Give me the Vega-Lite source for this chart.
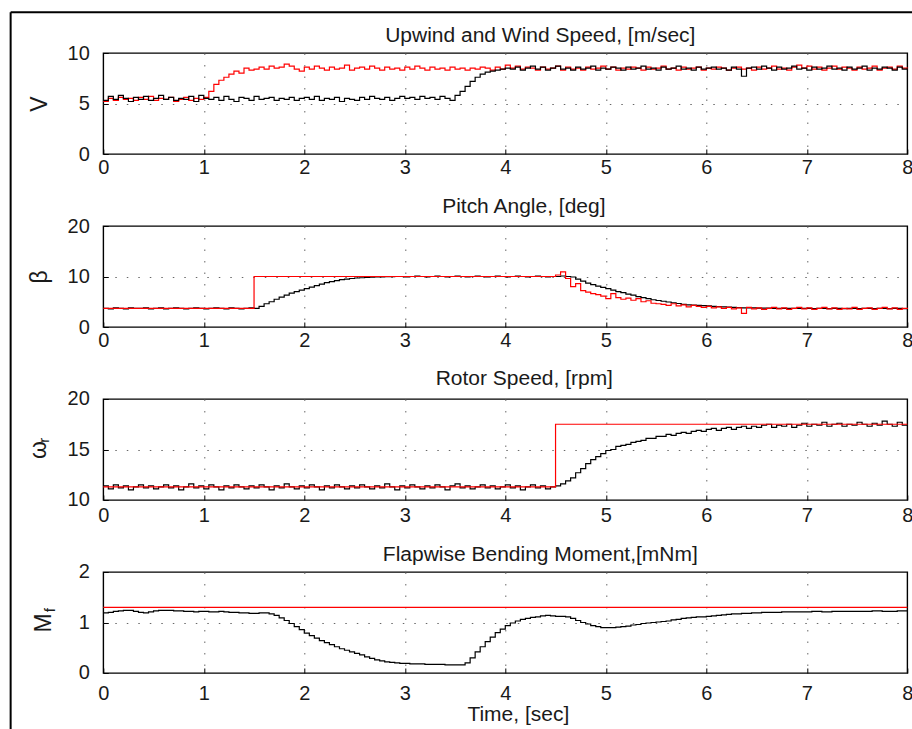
{
"$schema": "https://vega.github.io/schema/vega-lite/v6.json",
"padding": {"left": 8.3, "top": 10, "right": 0, "bottom": 0},
"background": "white",
"config": {
  "font": "Liberation Sans",
  "view": {"stroke": "#000", "strokeWidth": 1.4},
  "axis": {"labelFont": "Liberation Sans", "labelFontSize": 20, "labelColor": "#1a1a1a", "titleFont": "Liberation Sans", "titleFontSize": 23, "titleFontWeight": "normal", "titleColor": "#1a1a1a", "domain": false, "ticks": true, "tickSize": -5, "tickColor": "#000", "tickWidth": 1, "grid": true, "gridColor": "#666", "gridDash": [1.5, 10], "gridWidth": 1, "labelFlush": false, "labelOverlap": false, "format": "d"},
  "axisX": {"labelPadding": 8.9},
  "axisY": {"labelPadding": 19, "titleBaseline": "alphabetic", "titleAngle": 270},
  "title": {"font": "Liberation Sans", "fontSize": 21, "fontWeight": "normal", "color": "#1a1a1a", "baseline": "alphabetic", "offset": 13, "frame": "group", "anchor": "middle"}
},
"datasets": {
"p1": [
{"t":0,"b":5.3,"r":5.2},{"t":0.05,"b":5.7,"r":5.5},{"t":0.1,"b":5.4,"r":5.3},{"t":0.15,"b":5.8,"r":5.6},{"t":0.2,"b":5.5,"r":5.4},{"t":0.25,"b":5.2,"r":5.5},{"t":0.3,"b":5.6,"r":5.3},{"t":0.35,"b":5.4,"r":5.6},{"t":0.4,"b":5.7,"r":5.4},{"t":0.45,"b":5.3,"r":5.7},
{"t":0.5,"b":5.5,"r":5.3},{"t":0.55,"b":5.8,"r":5.5},{"t":0.6,"b":5.4,"r":5.4},{"t":0.65,"b":5.6,"r":5.6},{"t":0.7,"b":5.3,"r":5.2},{"t":0.75,"b":5.5,"r":5.4},{"t":0.8,"b":5.4,"r":5.6},{"t":0.85,"b":5.7,"r":5.3},{"t":0.9,"b":5.2,"r":5.5},{"t":0.95,"b":5.8,"r":5.4},
{"t":1,"b":5.5,"r":5.6},{"t":1.05,"b":5.4,"r":6.2},{"t":1.1,"b":5.6,"r":6.9},{"t":1.15,"b":5.3,"r":7.3},{"t":1.2,"b":5.7,"r":7.6},{"t":1.25,"b":5.4,"r":7.9},{"t":1.3,"b":5.2,"r":8.2},{"t":1.35,"b":5.6,"r":8.0},{"t":1.4,"b":5.5,"r":8.5},{"t":1.45,"b":5.3,"r":8.3},
{"t":1.5,"b":5.7,"r":8.4},{"t":1.55,"b":5.4,"r":8.6},{"t":1.6,"b":5.5,"r":8.4},{"t":1.65,"b":5.6,"r":8.7},{"t":1.7,"b":5.3,"r":8.5},{"t":1.75,"b":5.5,"r":8.6},{"t":1.8,"b":5.4,"r":8.9},{"t":1.85,"b":5.6,"r":8.7},{"t":1.9,"b":5.3,"r":8.4},{"t":1.95,"b":5.5,"r":8.2},
{"t":2,"b":5.6,"r":8.6},{"t":2.05,"b":5.4,"r":8.4},{"t":2.1,"b":5.7,"r":8.7},{"t":2.15,"b":5.3,"r":8.5},{"t":2.2,"b":5.5,"r":8.3},{"t":2.25,"b":5.4,"r":8.6},{"t":2.3,"b":5.6,"r":8.4},{"t":2.35,"b":5.2,"r":8.5},{"t":2.4,"b":5.5,"r":8.8},{"t":2.45,"b":5.4,"r":8.3},
{"t":2.5,"b":5.3,"r":8.5},{"t":2.55,"b":5.6,"r":8.6},{"t":2.6,"b":5.4,"r":8.4},{"t":2.65,"b":5.7,"r":8.7},{"t":2.7,"b":5.5,"r":8.5},{"t":2.75,"b":5.4,"r":8.3},{"t":2.8,"b":5.6,"r":8.6},{"t":2.85,"b":5.3,"r":8.4},{"t":2.9,"b":5.5,"r":8.5},{"t":2.95,"b":5.7,"r":8.3},
{"t":3,"b":5.5,"r":8.6},{"t":3.05,"b":5.6,"r":8.4},{"t":3.1,"b":5.4,"r":8.7},{"t":3.15,"b":5.7,"r":8.5},{"t":3.2,"b":5.5,"r":8.3},{"t":3.25,"b":5.6,"r":8.6},{"t":3.3,"b":5.4,"r":8.4},{"t":3.35,"b":5.7,"r":8.5},{"t":3.4,"b":5.5,"r":8.3},{"t":3.45,"b":5.3,"r":8.6},
{"t":3.5,"b":5.8,"r":8.4},{"t":3.55,"b":6.2,"r":8.5},{"t":3.6,"b":6.7,"r":8.3},{"t":3.65,"b":7.2,"r":8.5},{"t":3.7,"b":7.6,"r":8.4},{"t":3.75,"b":7.9,"r":8.6},{"t":3.8,"b":8.1,"r":8.5},{"t":3.85,"b":8.2,"r":8.3},{"t":3.9,"b":8.3,"r":8.6},{"t":3.95,"b":8.4,"r":8.4},
{"t":4,"b":8.5,"r":8.8},{"t":4.05,"b":8.4,"r":8.5},{"t":4.1,"b":8.6,"r":8.7},{"t":4.15,"b":8.3,"r":8.4},{"t":4.2,"b":8.5,"r":8.6},{"t":4.25,"b":8.7,"r":8.5},{"t":4.3,"b":8.4,"r":8.3},{"t":4.35,"b":8.6,"r":8.6},{"t":4.4,"b":8.3,"r":8.4},{"t":4.45,"b":8.5,"r":8.5},
{"t":4.5,"b":8.7,"r":8.7},{"t":4.55,"b":8.4,"r":8.3},{"t":4.6,"b":8.5,"r":8.6},{"t":4.65,"b":8.3,"r":8.4},{"t":4.7,"b":8.6,"r":8.5},{"t":4.75,"b":8.4,"r":8.3},{"t":4.8,"b":8.5,"r":8.6},{"t":4.85,"b":8.7,"r":8.4},{"t":4.9,"b":8.3,"r":8.5},{"t":4.95,"b":8.5,"r":8.7},
{"t":5,"b":8.4,"r":8.4},{"t":5.05,"b":8.6,"r":8.6},{"t":5.1,"b":8.5,"r":8.3},{"t":5.15,"b":8.3,"r":8.5},{"t":5.2,"b":8.6,"r":8.4},{"t":5.25,"b":8.4,"r":8.6},{"t":5.3,"b":8.5,"r":8.5},{"t":5.35,"b":8.7,"r":8.3},{"t":5.4,"b":8.4,"r":8.6},{"t":5.45,"b":8.5,"r":8.4},
{"t":5.5,"b":8.3,"r":8.5},{"t":5.55,"b":8.6,"r":8.7},{"t":5.6,"b":8.4,"r":8.4},{"t":5.65,"b":8.5,"r":8.5},{"t":5.7,"b":8.7,"r":8.3},{"t":5.75,"b":8.4,"r":8.6},{"t":5.8,"b":8.5,"r":8.4},{"t":5.85,"b":8.3,"r":8.5},{"t":5.9,"b":8.6,"r":8.6},{"t":5.95,"b":8.4,"r":8.3},
{"t":6,"b":8.5,"r":8.5},{"t":6.05,"b":8.6,"r":8.4},{"t":6.1,"b":8.4,"r":8.6},{"t":6.15,"b":8.5,"r":8.5},{"t":6.2,"b":8.3,"r":8.3},{"t":6.25,"b":8.6,"r":8.5},{"t":6.3,"b":8.4,"r":8.6},{"t":6.35,"b":7.7,"r":8.4},{"t":6.4,"b":8.5,"r":8.5},{"t":6.45,"b":8.6,"r":8.3},
{"t":6.5,"b":8.4,"r":8.6},{"t":6.55,"b":8.7,"r":8.4},{"t":6.6,"b":8.5,"r":8.5},{"t":6.65,"b":8.3,"r":8.7},{"t":6.7,"b":8.6,"r":8.4},{"t":6.75,"b":8.4,"r":8.5},{"t":6.8,"b":8.5,"r":8.3},{"t":6.85,"b":8.7,"r":8.6},{"t":6.9,"b":8.4,"r":8.8},{"t":6.95,"b":8.5,"r":8.5},
{"t":7,"b":8.3,"r":8.7},{"t":7.05,"b":8.6,"r":8.4},{"t":7.1,"b":8.4,"r":8.6},{"t":7.15,"b":8.5,"r":8.3},{"t":7.2,"b":8.7,"r":8.5},{"t":7.25,"b":8.4,"r":8.7},{"t":7.3,"b":8.5,"r":8.4},{"t":7.35,"b":8.3,"r":8.6},{"t":7.4,"b":8.6,"r":8.5},{"t":7.45,"b":8.4,"r":8.3},
{"t":7.5,"b":8.5,"r":8.6},{"t":7.55,"b":8.7,"r":8.4},{"t":7.6,"b":8.3,"r":8.5},{"t":7.65,"b":8.5,"r":8.7},{"t":7.7,"b":8.4,"r":8.3},{"t":7.75,"b":8.6,"r":8.5},{"t":7.8,"b":8.5,"r":8.6},{"t":7.85,"b":8.3,"r":8.4},{"t":7.9,"b":8.6,"r":8.7},{"t":7.95,"b":8.4,"r":8.5},
{"t":8,"b":8.5,"r":8.4}
],
"p2": [
{"t":0,"b":3.7,"r":3.7},{"t":0.05,"b":3.6,"r":3.7},{"t":0.1,"b":3.8,"r":3.7},{"t":0.15,"b":3.7,"r":3.7},{"t":0.2,"b":3.6,"r":3.7},{"t":0.25,"b":3.8,"r":3.7},{"t":0.3,"b":3.7,"r":3.7},{"t":0.35,"b":3.7,"r":3.7},{"t":0.4,"b":3.8,"r":3.7},{"t":0.45,"b":3.6,"r":3.7},
{"t":0.5,"b":3.7,"r":3.7},{"t":0.55,"b":3.8,"r":3.7},{"t":0.6,"b":3.6,"r":3.7},{"t":0.65,"b":3.7,"r":3.7},{"t":0.7,"b":3.8,"r":3.7},{"t":0.75,"b":3.7,"r":3.7},{"t":0.8,"b":3.6,"r":3.7},{"t":0.85,"b":3.7,"r":3.7},{"t":0.9,"b":3.8,"r":3.7},{"t":0.95,"b":3.7,"r":3.7},
{"t":1,"b":3.6,"r":3.7},{"t":1.05,"b":3.7,"r":3.7},{"t":1.1,"b":3.8,"r":3.7},{"t":1.15,"b":3.7,"r":3.7},{"t":1.2,"b":3.6,"r":3.7},{"t":1.25,"b":3.8,"r":3.7},{"t":1.3,"b":3.7,"r":3.7},{"t":1.35,"b":3.6,"r":3.7},{"t":1.4,"b":3.7,"r":3.7},{"t":1.45,"b":3.8,"r":3.7},
{"t":1.5,"b":3.7,"r":10},{"t":1.55,"b":4.1,"r":10},{"t":1.6,"b":4.6,"r":10},{"t":1.65,"b":5.0,"r":10},{"t":1.7,"b":5.5,"r":10},{"t":1.75,"b":5.9,"r":10},{"t":1.8,"b":6.3,"r":10},{"t":1.85,"b":6.7,"r":10},{"t":1.9,"b":7.0,"r":10},{"t":1.95,"b":7.3,"r":10},
{"t":2,"b":7.6,"r":10},{"t":2.05,"b":7.9,"r":10},{"t":2.1,"b":8.2,"r":10},{"t":2.15,"b":8.5,"r":10},{"t":2.2,"b":8.8,"r":10},{"t":2.25,"b":9.0,"r":10},{"t":2.3,"b":9.2,"r":10},{"t":2.35,"b":9.4,"r":10},{"t":2.4,"b":9.5,"r":10},{"t":2.45,"b":9.6,"r":10},
{"t":2.5,"b":9.7,"r":10},{"t":2.55,"b":9.75,"r":10},{"t":2.6,"b":9.8,"r":10},{"t":2.65,"b":9.85,"r":10},{"t":2.7,"b":9.9,"r":10},{"t":2.75,"b":9.9,"r":10},{"t":2.8,"b":9.95,"r":10},{"t":2.85,"b":9.95,"r":10},{"t":2.9,"b":10,"r":10},{"t":2.95,"b":10,"r":10},
{"t":3,"b":9.9,"r":10},{"t":3.05,"b":10,"r":10},{"t":3.1,"b":10.1,"r":10},{"t":3.15,"b":10,"r":10},{"t":3.2,"b":9.9,"r":10},{"t":3.25,"b":10,"r":10},{"t":3.3,"b":10.1,"r":10},{"t":3.35,"b":10,"r":10},{"t":3.4,"b":9.9,"r":10},{"t":3.45,"b":10,"r":10},
{"t":3.5,"b":10.1,"r":10},{"t":3.55,"b":10,"r":10},{"t":3.6,"b":9.9,"r":10},{"t":3.65,"b":10,"r":10},{"t":3.7,"b":10.1,"r":10},{"t":3.75,"b":10,"r":10},{"t":3.8,"b":9.9,"r":10},{"t":3.85,"b":10,"r":10},{"t":3.9,"b":10.1,"r":10},{"t":3.95,"b":10,"r":10},
{"t":4,"b":9.9,"r":10},{"t":4.05,"b":10,"r":10},{"t":4.1,"b":10.1,"r":10},{"t":4.15,"b":10,"r":10},{"t":4.2,"b":9.9,"r":10},{"t":4.25,"b":10,"r":10},{"t":4.3,"b":10.1,"r":10},{"t":4.35,"b":10,"r":10},{"t":4.4,"b":9.9,"r":10},{"t":4.45,"b":10,"r":10},
{"t":4.5,"b":10,"r":10.3},{"t":4.55,"b":10.1,"r":10.9},{"t":4.6,"b":10,"r":9.6},{"t":4.65,"b":9.9,"r":8.0},{"t":4.7,"b":9.5,"r":8.6},{"t":4.75,"b":9.1,"r":7.2},{"t":4.8,"b":8.7,"r":6.9},{"t":4.85,"b":8.4,"r":6.6},{"t":4.9,"b":8.1,"r":6.4},{"t":4.95,"b":7.85,"r":6.1},
{"t":5,"b":7.6,"r":5.6},{"t":5.05,"b":7.3,"r":6.6},{"t":5.1,"b":7.0,"r":5.8},{"t":5.15,"b":6.8,"r":5.5},{"t":5.2,"b":6.5,"r":5.7},{"t":5.25,"b":6.3,"r":5.3},{"t":5.3,"b":6.0,"r":5.6},{"t":5.35,"b":5.8,"r":5.0},{"t":5.4,"b":5.6,"r":5.2},{"t":5.45,"b":5.4,"r":4.7},
{"t":5.5,"b":5.25,"r":4.6},{"t":5.55,"b":5.1,"r":4.5},{"t":5.6,"b":4.95,"r":4.3},{"t":5.65,"b":4.8,"r":4.6},{"t":5.7,"b":4.65,"r":4.2},{"t":5.75,"b":4.5,"r":4.4},{"t":5.8,"b":4.4,"r":4.0},{"t":5.85,"b":4.35,"r":4.3},{"t":5.9,"b":4.3,"r":4.1},{"t":5.95,"b":4.25,"r":3.9},
{"t":6,"b":4.2,"r":4.1},{"t":6.05,"b":4.1,"r":3.8},{"t":6.1,"b":4.05,"r":4.0},{"t":6.15,"b":4.0,"r":3.7},{"t":6.2,"b":3.95,"r":3.9},{"t":6.25,"b":3.9,"r":3.6},{"t":6.3,"b":3.85,"r":3.8},{"t":6.35,"b":3.8,"r":2.7},{"t":6.4,"b":3.8,"r":3.9},{"t":6.45,"b":3.8,"r":3.6},
{"t":6.5,"b":3.75,"r":3.8},{"t":6.55,"b":3.75,"r":3.5},{"t":6.6,"b":3.75,"r":3.7},{"t":6.65,"b":3.7,"r":3.9},{"t":6.7,"b":3.7,"r":3.6},{"t":6.75,"b":3.7,"r":3.8},{"t":6.8,"b":3.7,"r":3.5},{"t":6.85,"b":3.7,"r":3.7},{"t":6.9,"b":3.7,"r":3.9},{"t":6.95,"b":3.7,"r":3.6},
{"t":7,"b":3.7,"r":3.8},{"t":7.05,"b":3.65,"r":3.5},{"t":7.1,"b":3.7,"r":3.7},{"t":7.15,"b":3.7,"r":3.9},{"t":7.2,"b":3.65,"r":3.6},{"t":7.25,"b":3.7,"r":3.8},{"t":7.3,"b":3.7,"r":3.5},{"t":7.35,"b":3.65,"r":3.7},{"t":7.4,"b":3.7,"r":3.6},{"t":7.45,"b":3.7,"r":3.9},
{"t":7.5,"b":3.65,"r":3.5},{"t":7.55,"b":3.7,"r":3.7},{"t":7.6,"b":3.7,"r":3.8},{"t":7.65,"b":3.65,"r":3.5},{"t":7.7,"b":3.7,"r":3.7},{"t":7.75,"b":3.7,"r":3.9},{"t":7.8,"b":3.65,"r":3.6},{"t":7.85,"b":3.7,"r":3.8},{"t":7.9,"b":3.7,"r":3.5},{"t":7.95,"b":3.65,"r":3.7},
{"t":8,"b":3.7,"r":3.8}
],
"p3": [
{"t":0,"b":11.4},{"t":0.05,"b":11.1},{"t":0.1,"b":11.5},{"t":0.15,"b":11.2},{"t":0.2,"b":11.4},{"t":0.25,"b":11.0},{"t":0.3,"b":11.3},{"t":0.35,"b":11.5},{"t":0.4,"b":11.2},{"t":0.45,"b":11.4},
{"t":0.5,"b":11.1},{"t":0.55,"b":11.3},{"t":0.6,"b":11.5},{"t":0.65,"b":11.2},{"t":0.7,"b":11.4},{"t":0.75,"b":11.0},{"t":0.8,"b":11.3},{"t":0.85,"b":11.6},{"t":0.9,"b":11.2},{"t":0.95,"b":11.4},
{"t":1,"b":11.1},{"t":1.05,"b":11.5},{"t":1.1,"b":11.3},{"t":1.15,"b":11.0},{"t":1.2,"b":11.4},{"t":1.25,"b":11.2},{"t":1.3,"b":11.5},{"t":1.35,"b":11.3},{"t":1.4,"b":11.1},{"t":1.45,"b":11.4},
{"t":1.5,"b":11.2},{"t":1.55,"b":11.5},{"t":1.6,"b":11.3},{"t":1.65,"b":11.0},{"t":1.7,"b":11.4},{"t":1.75,"b":11.2},{"t":1.8,"b":11.6},{"t":1.85,"b":11.3},{"t":1.9,"b":11.1},{"t":1.95,"b":11.4},
{"t":2,"b":11.2},{"t":2.05,"b":11.5},{"t":2.1,"b":11.3},{"t":2.15,"b":11.0},{"t":2.2,"b":11.4},{"t":2.25,"b":11.2},{"t":2.3,"b":11.5},{"t":2.35,"b":11.3},{"t":2.4,"b":11.1},{"t":2.45,"b":11.4},
{"t":2.5,"b":11.2},{"t":2.55,"b":11.5},{"t":2.6,"b":11.3},{"t":2.65,"b":11.1},{"t":2.7,"b":11.4},{"t":2.75,"b":11.2},{"t":2.8,"b":11.6},{"t":2.85,"b":11.3},{"t":2.9,"b":11.0},{"t":2.95,"b":11.4},
{"t":3,"b":11.2},{"t":3.05,"b":11.5},{"t":3.1,"b":11.3},{"t":3.15,"b":11.1},{"t":3.2,"b":11.4},{"t":3.25,"b":11.2},{"t":3.3,"b":11.5},{"t":3.35,"b":11.3},{"t":3.4,"b":11.0},{"t":3.45,"b":11.4},
{"t":3.5,"b":11.6},{"t":3.55,"b":11.2},{"t":3.6,"b":11.4},{"t":3.65,"b":11.1},{"t":3.7,"b":11.3},{"t":3.75,"b":11.5},{"t":3.8,"b":11.2},{"t":3.85,"b":11.4},{"t":3.9,"b":11.1},{"t":3.95,"b":11.3},
{"t":4,"b":11.5},{"t":4.05,"b":11.2},{"t":4.1,"b":11.4},{"t":4.15,"b":11.0},{"t":4.2,"b":11.3},{"t":4.25,"b":11.5},{"t":4.3,"b":11.2},{"t":4.35,"b":11.4},{"t":4.4,"b":11.1},{"t":4.45,"b":11.3},
{"t":4.5,"b":11.4},{"t":4.55,"b":11.6},{"t":4.6,"b":11.9},{"t":4.65,"b":12.2},{"t":4.7,"b":12.7},{"t":4.75,"b":13.1},{"t":4.8,"b":13.6},{"t":4.85,"b":14.0},{"t":4.9,"b":14.3},{"t":4.95,"b":14.6},
{"t":5,"b":14.9},{"t":5.05,"b":15.0},{"t":5.1,"b":15.3},{"t":5.15,"b":15.4},{"t":5.2,"b":15.5},{"t":5.25,"b":15.7},{"t":5.3,"b":15.8},{"t":5.35,"b":15.9},{"t":5.4,"b":16.1},{"t":5.45,"b":16.1},
{"t":5.5,"b":16.3},{"t":5.55,"b":16.3},{"t":5.6,"b":16.5},{"t":5.65,"b":16.4},{"t":5.7,"b":16.6},{"t":5.75,"b":16.7},{"t":5.8,"b":16.6},{"t":5.85,"b":16.8},{"t":5.9,"b":16.9},{"t":5.95,"b":16.8},
{"t":6,"b":17.0},{"t":6.05,"b":17.1},{"t":6.1,"b":16.9},{"t":6.15,"b":17.1},{"t":6.2,"b":17.2},{"t":6.25,"b":17.0},{"t":6.3,"b":17.2},{"t":6.35,"b":17.3},{"t":6.4,"b":17.1},{"t":6.45,"b":17.3},
{"t":6.5,"b":17.2},{"t":6.55,"b":17.4},{"t":6.6,"b":17.5},{"t":6.65,"b":17.2},{"t":6.7,"b":17.4},{"t":6.75,"b":17.3},{"t":6.8,"b":17.5},{"t":6.85,"b":17.2},{"t":6.9,"b":17.4},{"t":6.95,"b":17.6},
{"t":7,"b":17.3},{"t":7.05,"b":17.5},{"t":7.1,"b":17.4},{"t":7.15,"b":17.7},{"t":7.2,"b":17.3},{"t":7.25,"b":17.5},{"t":7.3,"b":17.6},{"t":7.35,"b":17.3},{"t":7.4,"b":17.5},{"t":7.45,"b":17.4},
{"t":7.5,"b":17.7},{"t":7.55,"b":17.5},{"t":7.6,"b":17.3},{"t":7.65,"b":17.6},{"t":7.7,"b":17.4},{"t":7.75,"b":17.8},{"t":7.8,"b":17.5},{"t":7.85,"b":17.3},{"t":7.9,"b":17.7},{"t":7.95,"b":17.4},
{"t":8,"b":17.5}
],
"p3r": [{"t":0,"r":11.3},{"t":4.5,"r":17.5},{"t":8,"r":17.5}],
"p4": [
{"t":0,"b":1.19},{"t":0.05,"b":1.2},{"t":0.1,"b":1.22},{"t":0.15,"b":1.23},{"t":0.2,"b":1.24},{"t":0.25,"b":1.24},{"t":0.3,"b":1.22},{"t":0.35,"b":1.2},{"t":0.4,"b":1.19},{"t":0.45,"b":1.21},
{"t":0.5,"b":1.23},{"t":0.55,"b":1.24},{"t":0.6,"b":1.24},{"t":0.65,"b":1.24},{"t":0.7,"b":1.23},{"t":0.75,"b":1.23},{"t":0.8,"b":1.22},{"t":0.85,"b":1.22},{"t":0.9,"b":1.21},{"t":0.95,"b":1.22},
{"t":1,"b":1.22},{"t":1.05,"b":1.21},{"t":1.1,"b":1.21},{"t":1.15,"b":1.22},{"t":1.2,"b":1.21},{"t":1.25,"b":1.2},{"t":1.3,"b":1.2},{"t":1.35,"b":1.19},{"t":1.4,"b":1.19},{"t":1.45,"b":1.18},
{"t":1.5,"b":1.18},{"t":1.55,"b":1.19},{"t":1.6,"b":1.19},{"t":1.65,"b":1.17},{"t":1.7,"b":1.14},{"t":1.75,"b":1.09},{"t":1.8,"b":1.04},{"t":1.85,"b":0.98},{"t":1.9,"b":0.92},{"t":1.95,"b":0.86},
{"t":2,"b":0.79},{"t":2.05,"b":0.74},{"t":2.1,"b":0.69},{"t":2.15,"b":0.64},{"t":2.2,"b":0.6},{"t":2.25,"b":0.56},{"t":2.3,"b":0.52},{"t":2.35,"b":0.48},{"t":2.4,"b":0.45},{"t":2.45,"b":0.42},
{"t":2.5,"b":0.39},{"t":2.55,"b":0.36},{"t":2.6,"b":0.32},{"t":2.65,"b":0.29},{"t":2.7,"b":0.26},{"t":2.75,"b":0.24},{"t":2.8,"b":0.22},{"t":2.85,"b":0.21},{"t":2.9,"b":0.2},{"t":2.95,"b":0.19},
{"t":3,"b":0.19},{"t":3.05,"b":0.18},{"t":3.1,"b":0.18},{"t":3.15,"b":0.18},{"t":3.2,"b":0.17},{"t":3.25,"b":0.17},{"t":3.3,"b":0.17},{"t":3.35,"b":0.17},{"t":3.4,"b":0.16},{"t":3.45,"b":0.16},
{"t":3.5,"b":0.16},{"t":3.55,"b":0.16},{"t":3.6,"b":0.2},{"t":3.65,"b":0.3},{"t":3.7,"b":0.42},{"t":3.75,"b":0.52},{"t":3.8,"b":0.62},{"t":3.85,"b":0.71},{"t":3.9,"b":0.8},{"t":3.95,"b":0.87},
{"t":4,"b":0.94},{"t":4.05,"b":0.99},{"t":4.1,"b":1.03},{"t":4.15,"b":1.06},{"t":4.2,"b":1.08},{"t":4.25,"b":1.1},{"t":4.3,"b":1.11},{"t":4.35,"b":1.13},{"t":4.4,"b":1.14},{"t":4.45,"b":1.13},
{"t":4.5,"b":1.12},{"t":4.55,"b":1.12},{"t":4.6,"b":1.11},{"t":4.65,"b":1.08},{"t":4.7,"b":1.04},{"t":4.75,"b":1.0},{"t":4.8,"b":0.97},{"t":4.85,"b":0.94},{"t":4.9,"b":0.92},{"t":4.95,"b":0.9},
{"t":5,"b":0.9},{"t":5.05,"b":0.9},{"t":5.1,"b":0.91},{"t":5.15,"b":0.92},{"t":5.2,"b":0.93},{"t":5.25,"b":0.95},{"t":5.3,"b":0.96},{"t":5.35,"b":0.98},{"t":5.4,"b":0.99},{"t":5.45,"b":1.0},
{"t":5.5,"b":1.01},{"t":5.55,"b":1.02},{"t":5.6,"b":1.03},{"t":5.65,"b":1.05},{"t":5.7,"b":1.06},{"t":5.75,"b":1.08},{"t":5.8,"b":1.09},{"t":5.85,"b":1.1},{"t":5.9,"b":1.11},{"t":5.95,"b":1.11},
{"t":6,"b":1.12},{"t":6.05,"b":1.13},{"t":6.1,"b":1.14},{"t":6.15,"b":1.15},{"t":6.2,"b":1.16},{"t":6.25,"b":1.17},{"t":6.3,"b":1.17},{"t":6.35,"b":1.18},{"t":6.4,"b":1.18},{"t":6.45,"b":1.19},
{"t":6.5,"b":1.19},{"t":6.55,"b":1.2},{"t":6.6,"b":1.2},{"t":6.65,"b":1.2},{"t":6.7,"b":1.2},{"t":6.75,"b":1.21},{"t":6.8,"b":1.21},{"t":6.85,"b":1.21},{"t":6.9,"b":1.21},{"t":6.95,"b":1.21},
{"t":7,"b":1.21},{"t":7.05,"b":1.22},{"t":7.1,"b":1.22},{"t":7.15,"b":1.21},{"t":7.2,"b":1.21},{"t":7.25,"b":1.22},{"t":7.3,"b":1.22},{"t":7.35,"b":1.22},{"t":7.4,"b":1.22},{"t":7.45,"b":1.22},
{"t":7.5,"b":1.22},{"t":7.55,"b":1.22},{"t":7.6,"b":1.22},{"t":7.65,"b":1.23},{"t":7.7,"b":1.23},{"t":7.75,"b":1.22},{"t":7.8,"b":1.22},{"t":7.85,"b":1.22},{"t":7.9,"b":1.23},{"t":7.95,"b":1.23},
{"t":8,"b":1.23}
],
"p4r": [{"t":0,"r":1.3},{"t":8,"r":1.3}]
},
"bounds": "flush",
"spacing": 72,
"vconcat": [
{
 "width": 804, "height": 101,
 "title": {"text": "Upwind and Wind Speed, [m/sec]", "dx": 35, "dy": 47.4},
 "layer": [
  {"data": {"name": "p1"},
   "mark": {"type": "line", "interpolate": "step-after", "color": "#ff0000", "strokeWidth": 1.2},
   "encoding": {
    "x": {"field": "t", "type": "quantitative", "scale": {"domain": [0, 8], "nice": false}, "axis": {"values": [0,1,2,3,4,5,6,7,8], "title": null, "labelPadding": 8.9, "gridOpacity": {"condition": {"test": "datum.index == 0 || datum.index == 1", "value": 0}, "value": 1}}},
    "y": {"field": "r", "type": "quantitative", "scale": {"domain": [0, 10], "nice": false}, "axis": {"values": [0,5,10], "title": "V", "titleX": -56.3, "gridOpacity": {"condition": {"test": "datum.index == 0 || datum.index == 1", "value": 0}, "value": 1}}}
   }},
  {"data": {"name": "p1"},
   "mark": {"type": "line", "interpolate": "step-after", "color": "#000000", "strokeWidth": 1.2},
   "encoding": {
    "x": {"field": "t", "type": "quantitative", "scale": {"domain": [0, 8], "nice": false}},
    "y": {"field": "b", "type": "quantitative", "scale": {"domain": [0, 10], "nice": false}}
   }},
  {"data": {"values": [{}]},
   "mark": {"type": "rule", "color": "#000000", "strokeWidth": 2},
   "encoding": {
    "x": {"datum": -0.922, "type": "quantitative", "scale": {"domain": [0, 8], "nice": false}},
    "y": {"datum": 14.03, "type": "quantitative", "scale": {"domain": [0, 10], "nice": false}},
    "y2": {"datum": -57.6}
   }},
  {"data": {"values": [{}]},
   "mark": {"type": "rule", "color": "#000000", "strokeWidth": 2},
   "encoding": {
    "x": {"datum": -0.922, "type": "quantitative", "scale": {"domain": [0, 8], "nice": false}},
    "x2": {"datum": 8.3},
    "y": {"datum": 14.03, "type": "quantitative", "scale": {"domain": [0, 10], "nice": false}}
   }}
 ]
},
{
 "width": 804, "height": 101,
 "title": {"text": "Pitch Angle, [deg]", "dx": 18.5, "dy": 14.4},
 "data": {"name": "p2"},
 "layer": [
  {"mark": {"type": "line", "interpolate": "step-after", "color": "#000000", "strokeWidth": 1.2},
   "encoding": {
    "x": {"field": "t", "type": "quantitative", "scale": {"domain": [0, 8], "nice": false}, "axis": {"values": [0,1,2,3,4,5,6,7,8], "title": null, "labelPadding": 8.7, "gridOpacity": {"condition": {"test": "datum.index == 0 || datum.index == 1", "value": 0}, "value": 1}}},
    "y": {"field": "b", "type": "quantitative", "scale": {"domain": [0, 20], "nice": false}, "axis": {"values": [0,10,20], "title": "β", "titleX": -57.2, "gridOpacity": {"condition": {"test": "datum.index == 0 || datum.index == 1", "value": 0}, "value": 1}}}
   }},
  {"mark": {"type": "line", "interpolate": "step-after", "color": "#ff0000", "strokeWidth": 1.2},
   "encoding": {
    "x": {"field": "t", "type": "quantitative"},
    "y": {"field": "r", "type": "quantitative"}
   }}
 ]
},
{
 "width": 804, "height": 101,
 "title": {"text": "Rotor Speed, [rpm]", "dx": 19, "dy": 13.1},
 "layer": [
  {"data": {"name": "p3"},
   "mark": {"type": "line", "interpolate": "step-after", "color": "#000000", "strokeWidth": 1.2},
   "encoding": {
    "x": {"field": "t", "type": "quantitative", "scale": {"domain": [0, 8], "nice": false}, "axis": {"values": [0,1,2,3,4,5,6,7,8], "title": null, "labelPadding": 11, "gridOpacity": {"condition": {"test": "datum.index == 0 || datum.index == 1", "value": 0}, "value": 1}}},
    "y": {"field": "b", "type": "quantitative", "scale": {"domain": [10, 20], "nice": false}, "axis": {"values": [10,15,20], "title": "ω", "titleX": -58, "gridOpacity": {"condition": {"test": "datum.index == 0 || datum.index == 1", "value": 0}, "value": 1}}}
   }},
  {"data": {"name": "p3r"},
   "mark": {"type": "line", "interpolate": "step-after", "color": "#ff0000", "strokeWidth": 1.2},
   "encoding": {
    "x": {"field": "t", "type": "quantitative", "scale": {"domain": [0, 8], "nice": false}},
    "y": {"field": "r", "type": "quantitative", "scale": {"domain": [10, 20], "nice": false}}
   }},
  {"data": {"values": [{}]},
   "mark": {"type": "text", "text": "r", "angle": 270, "align": "left", "baseline": "alphabetic", "fontSize": 15, "font": "Liberation Sans", "color": "#1a1a1a"},
   "encoding": {
    "x": {"datum": -0.542, "type": "quantitative", "scale": {"domain": [0, 8], "nice": false}},
    "y": {"datum": 15.66, "type": "quantitative", "scale": {"domain": [10, 20], "nice": false}}
   }}
 ]
},
{
 "width": 804, "height": 101,
 "title": {"text": "Flapwise Bending Moment,[mNm]", "dx": 35, "dy": 16.4},
 "layer": [
  {"data": {"name": "p4"},
   "mark": {"type": "line", "interpolate": "step-after", "color": "#000000", "strokeWidth": 1.2},
   "encoding": {
    "x": {"field": "t", "type": "quantitative", "scale": {"domain": [0, 8], "nice": false}, "axis": {"values": [0,1,2,3,4,5,6,7,8], "title": "Time, [sec]", "labelPadding": 15.3, "titleFontSize": 21, "titleBaseline": "alphabetic", "titleX": 414.5, "titleY": 47.3, "gridOpacity": {"condition": {"test": "datum.index == 0 || datum.index == 1", "value": 0}, "value": 1}}},
    "y": {"field": "b", "type": "quantitative", "scale": {"domain": [0, 2], "nice": false}, "axis": {"values": [0,1,2], "title": "M", "titleX": -53, "gridOpacity": {"condition": {"test": "datum.index == 0 || datum.index == 1", "value": 0}, "value": 1}}}
   }},
  {"data": {"name": "p4r"},
   "mark": {"type": "line", "color": "#ff0000", "strokeWidth": 1.2},
   "encoding": {
    "x": {"field": "t", "type": "quantitative", "scale": {"domain": [0, 8], "nice": false}},
    "y": {"field": "r", "type": "quantitative", "scale": {"domain": [0, 2], "nice": false}}
   }},
  {"data": {"values": [{}]},
   "mark": {"type": "text", "text": "f", "angle": 270, "align": "left", "baseline": "alphabetic", "fontSize": 15, "font": "Liberation Sans", "color": "#1a1a1a"},
   "encoding": {
    "x": {"datum": -0.478, "type": "quantitative", "scale": {"domain": [0, 8], "nice": false}},
    "y": {"datum": 1.202, "type": "quantitative", "scale": {"domain": [0, 2], "nice": false}}
   }}
 ]
}
]
}
